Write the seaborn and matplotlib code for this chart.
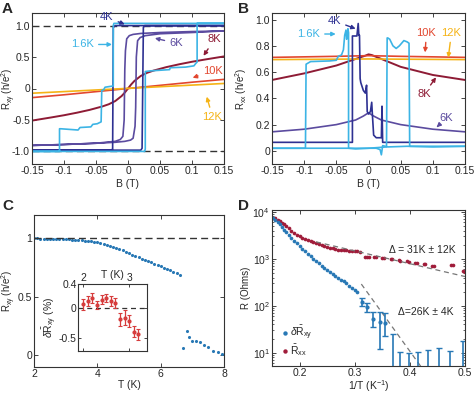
import matplotlib
matplotlib.use('Agg')
import matplotlib.pyplot as plt
import seaborn as sns

# ---------------- colours ----------------
c16, c4, c6 = '#3cb4e5', '#2e3192', '#5b4b9f'
c8, c10, c12 = '#8e1b35', '#e2472f', '#f5b316'
blue, red, ired = '#2878b5', '#a01c3a', '#d63c3c'

# ---------------- panel A : Rxy(B) ----------------
a12_B = [-0.15, 0.15]
a12_R = [-0.075, 0.08]
a10_B = [-0.15, -0.1, -0.05, 0.0, 0.05, 0.1, 0.15]
a10_R = [-0.145, -0.1, -0.05, 0.0, 0.05, 0.1, 0.145]
a8_B = [-0.15, -0.12, -0.1, -0.08, -0.06, -0.04, -0.03, -0.02, -0.01, -0.005, 0.0,
        0.005, 0.01, 0.02, 0.03, 0.04, 0.06, 0.08, 0.1, 0.12, 0.15]
a8_R = [-0.51, -0.46, -0.425, -0.385, -0.34, -0.285, -0.25, -0.2, -0.12, -0.065, 0.0,
        0.065, 0.12, 0.2, 0.25, 0.285, 0.34, 0.385, 0.425, 0.46, 0.51]
a6_B = [0.15, 0.1, 0.05, 0.02, 0.008, 0.002, -0.002, -0.004, -0.005, -0.006, -0.008, -0.012,
        -0.02, -0.05, -0.1, -0.15,
        -0.1, -0.05, -0.02, -0.005, 0.004, 0.008, 0.011, 0.012, 0.013, 0.015, 0.019, 0.027,
        0.05, 0.1, 0.15]
a6_R = [0.915, 0.905, 0.89, 0.875, 0.86, 0.84, 0.79, 0.6, 0.3, -0.5, -0.76, -0.81,
        -0.84, -0.87, -0.89, -0.905,
        -0.89, -0.87, -0.855, -0.84, -0.82, -0.79, -0.6, -0.3, 0.5, 0.76, 0.81, 0.84,
        0.87, 0.89, 0.915]
a4_B = [0.15, -0.02, -0.023, -0.024, -0.026, -0.15, -0.15, 0.02, 0.022, 0.024, 0.026, 0.15]
a4_R = [1.0, 1.0, 0.97, -0.96, -0.98, -0.98, -0.98, -0.98, -0.95, 0.97, 1.0, 1.0]
a16_B = [0.15, -0.022, -0.023, -0.023, -0.03, -0.036, -0.038, -0.041, -0.042, -0.048, -0.055,
         -0.058, -0.075, -0.078, -0.105, -0.107, -0.107, -0.15,
         -0.15, 0.026, 0.027, 0.027, 0.035, 0.05, 0.065, 0.066, 0.09, 0.103, 0.106, 0.108,
         0.108, 0.15]
a16_R = [1.035, 1.035, 1.0, 0.04, 0.03, 0.02, -0.02, -0.03, -0.53, -0.56, -0.57,
         -0.61, -0.62, -0.66, -0.64, -0.64, -1.0, -1.0,
         -1.0, -1.0, -0.96, 0.27, 0.28, 0.29, 0.30, 0.33, 0.34, 0.36, 0.40, 0.42,
         1.035, 1.035]

# ---------------- panel B : Rxx(B) ----------------
b12_B = [-0.15, 0.0, 0.15]
b12_R = [0.695, 0.70, 0.695]
b10_B = [-0.15, -0.05, 0.0, 0.05, 0.15]
b10_R = [0.712, 0.72, 0.725, 0.72, 0.712]
b8_B = [-0.15, -0.1, -0.05, -0.02, -0.005, 0.0, 0.005, 0.02, 0.05, 0.1, 0.15]
b8_R = [0.54, 0.59, 0.65, 0.70, 0.725, 0.735, 0.73, 0.70, 0.64, 0.578, 0.54]
b6_B = [-0.15, -0.1, -0.05, -0.02, -0.008, 0.0, 0.008, 0.02, 0.05, 0.1, 0.15]
b6_R = [0.145, 0.165, 0.2, 0.235, 0.265, 0.29, 0.265, 0.235, 0.2, 0.165, 0.145]
b4_B = [-0.15, -0.025, -0.025, -0.018, -0.016, -0.015, -0.014, -0.013, -0.012, -0.008, -0.005,
        -0.003, -0.002, 0.0, 0.003, 0.005, 0.006, 0.008, 0.012, 0.02, 0.021, 0.022, 0.15]
b4_R = [0.065, 0.065, 0.875, 0.875, 0.97, 0.88, 0.88, 0.55, 0.52, 0.46, 0.44,
        0.5, 0.3, 0.28, 0.3, 0.37, 0.28, 0.12, 0.1, 0.1, 0.34, 0.065, 0.065]
b16_B = [-0.15, -0.1, -0.098, -0.097, -0.09, -0.06, -0.05, -0.047, -0.042, -0.039, -0.037,
         -0.035, -0.034, -0.033, -0.032, -0.031, -0.031, -0.02, 0.0, 0.012, 0.018, 0.02,
         0.022, 0.03, 0.06, 0.1, 0.15]
b16_R = [0.02, 0.02, 0.02, 0.66, 0.68, 0.685, 0.69, 0.72, 0.73, 0.77, 0.88,
         0.92, 0.85, 0.87, 0.93, 0.9, 0.02, 0.015, 0.02, 0.02, 0.01, -0.03,
         0.04, 0.03, 0.035, 0.03, 0.035]
b16r_B = [0.15, 0.064, 0.063, 0.06, 0.055, 0.048, 0.043, 0.038, 0.033, 0.03, 0.029, 0.028, 0.0, -0.15]
b16r_R = [0.035, 0.035, 0.82, 0.83, 0.84, 0.8, 0.78, 0.8, 0.85, 0.86, 0.86, 0.03, 0.02, 0.02]

# ---------------- panel C : mean Rxy(T) ----------------
c_T = [2.0, 2.1, 2.2, 2.3, 2.4, 2.5, 2.6, 2.7, 2.8, 2.9, 3.0, 3.1, 3.2, 3.3, 3.4, 3.5,
       3.6, 3.7, 3.8, 3.9, 4.0, 4.1, 4.2, 4.3, 4.4, 4.5, 4.6, 4.7, 4.8, 4.9, 5.0, 5.1,
       5.2, 5.3, 5.4, 5.5, 5.6, 5.7, 5.8, 5.9, 6.0, 6.1, 6.2, 6.3, 6.4, 6.5, 6.6,
       6.69, 6.82, 6.89, 7.0, 7.13, 7.24, 7.36, 7.5, 7.66, 7.81, 7.95]
c_R = [1.0, 1.0, 0.998, 0.998, 0.997, 0.997, 0.996, 0.996, 0.995, 0.994, 0.993, 0.992,
       0.99, 0.988, 0.986, 0.984, 0.981, 0.978, 0.974, 0.97, 0.965, 0.96, 0.953, 0.946,
       0.938, 0.929, 0.919, 0.908, 0.897, 0.885, 0.873, 0.861, 0.85, 0.838, 0.827, 0.816,
       0.805, 0.794, 0.783, 0.772, 0.761, 0.75, 0.739, 0.727, 0.715, 0.703, 0.69,
       0.06, 0.21, 0.16, 0.12, 0.12, 0.11, 0.085, 0.07, 0.04, 0.03, 0.01]
ins_T = [2.0, 2.1, 2.2, 2.3, 2.4, 2.5, 2.6, 2.7, 2.8, 2.9, 3.0, 3.1, 3.2]
ins_d = [0.06, 0.12, 0.17, 0.045, 0.14, 0.17, 0.12, 0.08, -0.19, -0.16, -0.22, -0.40, -0.44]
ins_e = [0.09, 0.08, 0.08, 0.07, 0.08, 0.07, 0.08, 0.08, 0.11, 0.12, 0.1, 0.09, 0.09]

# ---------------- panel D : Arrhenius ----------------
xx_invT = [0.152, 0.156, 0.16, 0.164, 0.168, 0.172, 0.176, 0.18, 0.185, 0.19, 0.195, 0.2,
           0.205, 0.21, 0.215, 0.22, 0.225, 0.23, 0.235, 0.24, 0.245, 0.25, 0.255, 0.26,
           0.265, 0.27, 0.275, 0.28, 0.285, 0.29, 0.295, 0.3, 0.305, 0.31,
           0.318, 0.322, 0.326, 0.335, 0.338, 0.35, 0.353, 0.365, 0.368, 0.38, 0.383,
           0.395, 0.398, 0.41, 0.413, 0.425, 0.428, 0.44, 0.443, 0.475, 0.478, 0.497, 0.5]
xx_R = [7600, 7300, 6900, 6400, 5900, 5400, 4900, 4450, 4000, 3600, 3300, 3050,
        2850, 2650, 2500, 2380, 2250, 2150, 2050, 1960, 1880, 1810, 1740, 1680,
        1620, 1580, 1550, 1530, 1510, 1500, 1490, 1470, 1450, 1430,
        1120, 1110, 1100, 1080, 1070, 1040, 1030, 1000, 990, 930, 920,
        880, 870, 830, 820, 780, 770, 700, 690, 740, 735, 560, 520]
xy_invT = [0.152, 0.156, 0.16, 0.164, 0.168, 0.172, 0.176, 0.18, 0.185, 0.19, 0.195, 0.2,
           0.205, 0.21, 0.215, 0.22, 0.225, 0.23, 0.235, 0.24, 0.245, 0.25, 0.255, 0.26,
           0.265, 0.27, 0.275, 0.28, 0.285, 0.29, 0.295, 0.3, 0.305]
xy_R = [7400, 6900, 6200, 5500, 4800, 4200, 3700, 3300, 2850, 2450, 2150, 1900,
        1650, 1450, 1280, 1130, 1000, 900, 800, 720, 650, 590, 530, 480,
        440, 400, 360, 330, 300, 270, 245, 220, 200]
xyE_invT = [0.313, 0.322, 0.333, 0.345, 0.355, 0.369, 0.3825, 0.399, 0.414, 0.433, 0.453, 0.473, 0.497]
xyE_R = [120, 95, 52, 45, 42, 4, 3, 3, 3, 3, 3, 3, 3]
xyE_lo = [22, 23, 16, 33, 19, 3.5, 2.5, 2.5, 2.5, 2.5, 2.5, 2.5, 2.5]
xyE_hi = [28, 21, 22, 29, 29, 21, 7.4, 6.8, 7.4, 8.5, 9.5, 8, 14.9]
fit_xx_x, fit_xx_y = [0.23, 0.5], [2300, 420]
fit_xy_x, fit_xy_y = [0.312, 0.425], [290, 4.2]

# ---------------- style ----------------
sns.set_style('ticks')
plt.rcParams['font.family'] = ['Liberation Sans', 'DejaVu Sans']
plt.rcParams['mathtext.fontset'] = 'custom'
plt.rcParams['mathtext.rm'] = 'Liberation Sans'
plt.rcParams['mathtext.it'] = 'Liberation Sans:italic'
plt.rcParams['mathtext.bf'] = 'Liberation Sans:bold'
plt.rcParams['axes.linewidth'] = 0.8
plt.rcParams['axes.edgecolor'] = '#333333'
FS = 7.5

fig = plt.figure(figsize=(4.74, 3.94), dpi=100)
W, H = 474.0, 394.0


def px_axes(x0, y0, x1, y1):
    return fig.add_axes([x0 / W, 1 - y1 / H, (x1 - x0) / W, (y1 - y0) / H])


axA = px_axes(32, 13, 224, 164)
axB = px_axes(272, 13, 465, 164)
axC = px_axes(34, 215, 224, 367)
axD = px_axes(272, 210, 465, 366)


def line(ax, x, y, c, lw=1.2):
    sns.lineplot(x=x, y=y, sort=False, estimator=None, color=c, lw=lw, ax=ax)


def ann(ax, s, xy, xytext, c):
    ax.annotate(s, xy=xy, xytext=xytext, color=c, fontsize=8, ha='center', va='center',
                arrowprops=dict(arrowstyle='-|>', color=c, lw=1.0, mutation_scale=6,
                                shrinkA=1, shrinkB=0))


def tickify(ax):
    ax.tick_params(direction='in', top=True, right=True, length=3, width=0.6,
                   labelsize=FS, pad=1.5)
    ax.tick_params(which='minor', direction='in', top=True, right=True, length=1.5, width=0.5)


def ylab(ax, s, x_px, ax_left):
    # place the y label so its right edge sits at x_px (figure pixels)
    ax.set_ylabel(s, fontsize=7)
    w = ax.get_position().width * W
    ax.yaxis.set_label_coords((x_px - ax_left) / w, 0.5)


# ---- A ----
axA.axhline(1.0, color='#333333', ls=(0, (5, 3)), lw=1.0)
axA.axhline(-1.0, color='#333333', ls=(0, (5, 3)), lw=1.0)
line(axA, a8_B, a8_R, c8, 1.4)
line(axA, a10_B, a10_R, c10)
line(axA, a12_B, a12_R, c12)
line(axA, a6_B, a6_R, c6)
line(axA, a4_B, a4_R, c4)
line(axA, a16_B, a16_R, c16)
axA.set_xlim(-0.15, 0.15)
axA.set_ylim(-1.2, 1.2)
axA.set_xticks([-0.15, -0.1, -0.05, 0, 0.05, 0.1, 0.15])
axA.set_xticklabels(['-0.15', '-0.1', '-0.05', '0', '0.05', '0.1', '0.15'])
axA.set_yticks([-1, -0.5, 0, 0.5, 1])
axA.set_yticklabels(['-1.0', '-0.5', '0', '0.5', '1.0'])
axA.set_xlabel('B (T)', fontsize=FS, labelpad=2)
ylab(axA, r'R$_{\mathrm{xy}}$ (h/e$^2$)', 18.5, 32)
tickify(axA)
ann(axA, '4K', (-0.005, 1.02), (-0.033, 1.13), c4)
ann(axA, '1.6K', (-0.025, 0.70), (-0.071, 0.70), c16)
ann(axA, '6K', (0.042, 0.80), (0.075, 0.72), c6)
ann(axA, '8K', (0.118, 0.52), (0.135, 0.78), c8)
ann(axA, '10K', (0.101, 0.17), (0.132, 0.28), c10)
ann(axA, '12K', (0.123, -0.13), (0.132, -0.45), c12)

# ---- B ----
line(axB, b8_B, b8_R, c8, 1.4)
line(axB, b10_B, b10_R, c10)
line(axB, b12_B, b12_R, c12)
line(axB, b6_B, b6_R, c6)
line(axB, b4_B, b4_R, c4)
line(axB, b16_B, b16_R, c16)
line(axB, b16r_B, b16r_R, c16)
axB.set_xlim(-0.15, 0.15)
axB.set_ylim(-0.1, 1.05)
axB.set_xticks([-0.15, -0.1, -0.05, 0, 0.05, 0.1, 0.15])
axB.set_xticklabels(['-0.15', '-0.1', '-0.05', '0', '0.05', '0.1', '0.15'])
axB.set_yticks([0, 0.2, 0.4, 0.6, 0.8, 1.0])
axB.set_yticklabels(['0', '0.2', '0.4', '0.6', '0.8', '1.0'])
axB.set_xlabel('B (T)', fontsize=FS, labelpad=2)
ylab(axB, r'R$_{\mathrm{xx}}$ (h/e$^2$)', 249, 272)
tickify(axB)
ann(axB, '4K', (-0.02, 0.93), (-0.053, 0.99), c4)
ann(axB, '1.6K', (-0.051, 0.89), (-0.093, 0.89), c16)
ann(axB, '10K', (0.088, 0.75), (0.09, 0.90), c10)
ann(axB, '12K', (0.124, 0.71), (0.129, 0.90), c12)
ann(axB, '8K', (0.105, 0.56), (0.086, 0.43), c8)
ann(axB, '6K', (0.106, 0.18), (0.121, 0.25), c6)

# ---- C ----
axC.axhline(1.0, color='#333333', ls=(0, (5, 3)), lw=1.0)
sns.scatterplot(x=c_T, y=c_R, color=blue, s=5, linewidth=0, ax=axC)
axC.set_xlim(2, 8)
axC.set_ylim(-0.1, 1.2)
axC.set_xticks([2, 4, 6, 8])
axC.set_yticks([0, 0.5, 1])
axC.set_yticklabels(['0', '0.5', '1'])
axC.set_xlabel('T (K)', fontsize=FS, labelpad=1)
ylab(axC, r'$\bar{\mathrm{R}}_{\mathrm{xy}}$ (h/e$^2$)', 17.5, 34)
tickify(axC)

axI = px_axes(78, 284, 147, 351)
axI.axhline(0, color='#333333', ls=(0, (4, 3)), lw=0.9)
axI.errorbar(ins_T, ins_d, yerr=ins_e, fmt='o', ms=2, color=ired, ecolor=ired,
             elinewidth=0.9, capsize=1.5, capthick=0.8)
axI.set_xlim(1.885, 3.385)
axI.set_ylim(-0.72, 0.4)
axI.set_xticks([2, 3])
axI.set_yticks([-0.5, 0, 0.4])
axI.set_yticklabels(['-0.5', '0', '0.4'])
axI.xaxis.tick_top()
axI.xaxis.set_label_position('top')
axI.set_xlabel('T (K)', fontsize=FS, labelpad=-4)
axI.set_ylabel(r'$\delta\bar{\mathrm{R}}_{\mathrm{xy}}$ (%)', fontsize=FS, labelpad=0)
axI.tick_params(direction='in', top=True, bottom=True, right=True, length=2.5, width=0.6,
                labelsize=FS, pad=1)

# ---- D ----
axD.set_yscale('log')
axD.plot(fit_xx_x, fit_xx_y, color='#777777', ls=(0, (4, 3)), lw=0.9)
axD.plot(fit_xy_x, fit_xy_y, color='#777777', ls=(0, (4, 3)), lw=0.9)
sns.scatterplot(x=xx_invT, y=xx_R, color=red, s=7, linewidth=0, ax=axD,
                label=r'$\bar{\mathrm{R}}_{\mathrm{xx}}$')
sns.scatterplot(x=xy_invT, y=xy_R, color=blue, s=7, linewidth=0, ax=axD,
                label=r'$\delta\bar{\mathrm{R}}_{\mathrm{xy}}$')
axD.errorbar(xyE_invT, xyE_R, yerr=[xyE_lo, xyE_hi], fmt='o', ms=2, color=blue,
             elinewidth=1.2, capsize=2.5, capthick=1.0)
axD.set_xlim(0.15, 0.5)
axD.set_ylim(5.2, 1.1e4)
axD.set_xticks([0.2, 0.3, 0.4, 0.5])
axD.set_xticklabels(['0.2', '0.3', '0.4', '0.5'])
axD.set_xlabel(r'1/T (K$^{-1}$)', fontsize=FS, labelpad=0)
ylab(axD, 'R (Ohms)', 251, 272)
tickify(axD)
axD.text(0.422, 1550, 'Δ = 31K ± 12K', fontsize=FS, ha='center', va='center')
axD.text(0.428, 72, 'Δ=26K ± 4K', fontsize=FS, ha='center', va='center')
h, l = axD.get_legend_handles_labels()
axD.legend(h[::-1], l[::-1], loc='lower left', frameon=False, fontsize=FS,
           handletextpad=0.1, borderaxespad=0.4, labelspacing=0.0, markerscale=1.2,
           handlelength=0.8)

# panel letters
for s, x, y in [('A', 2, 2), ('B', 238, 2), ('C', 2, 199), ('D', 238, 199)]:
    fig.text(x / W, 1 - y / H, s, fontsize=11, fontweight='bold', ha='left', va='top')

fig.savefig('out.png', dpi=100)
